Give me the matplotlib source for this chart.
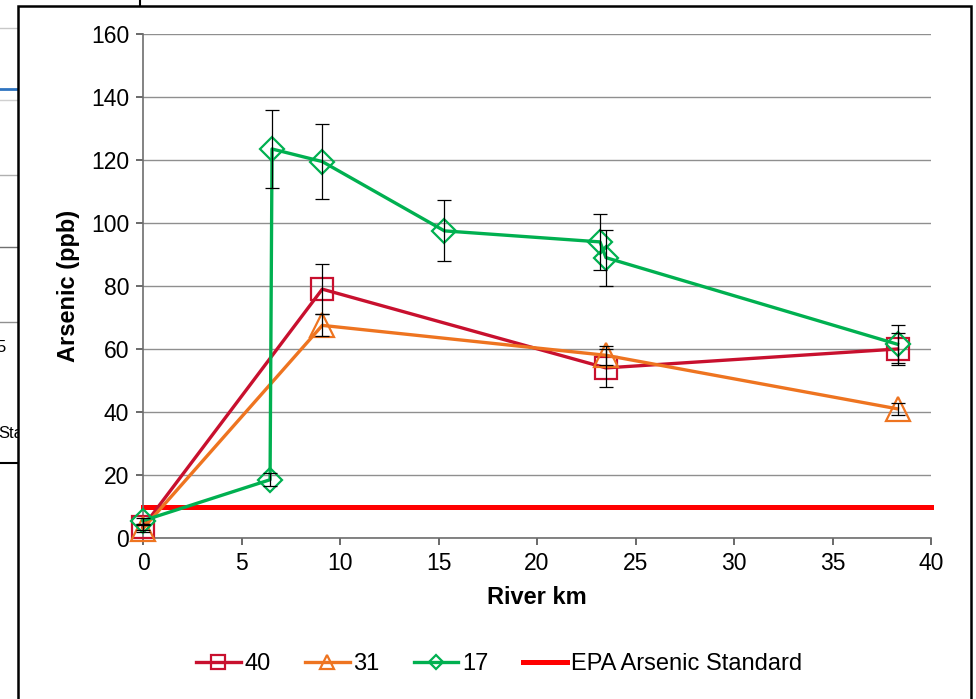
import matplotlib
matplotlib.use("Agg")
import matplotlib.pyplot as plt
from matplotlib.patches import Rectangle
from matplotlib.lines import Line2D

plt.rcParams["font.family"] = ["Liberation Sans", "DejaVu Sans"]

# site 40
km_40 = [0, 9.1, 23.5, 38.3]
as_40 = [3.5, 79, 54, 60]
err_40 = [1, 8, 6, 5]

# site 31
km_31 = [0, 9.1, 23.5, 38.3]
as_31 = [3, 67.5, 58, 41]
err_31 = [1, 3.5, 3, 2]

# site 17
km_17 = [0, 6.45, 6.55, 9.1, 15.3, 23.2, 23.5, 38.3]
as_17 = [5.5, 18.5, 123.5, 119.5, 97.5, 94, 89, 61.5]
err_17 = [1, 2, 12.5, 12, 9.7, 9, 8.9, 6]

epa_km = [0, 40]
epa_level = [10, 10]

W, H = 976, 699
fig = plt.figure(figsize=(W / 100, H / 100), dpi=100)


def fx(px):
    return px / W


def fy(py):
    return 1 - py / H


# bits of the chart behind this one (screenshot leftovers)
for py, col, lw in [(28, "#c8c8c8", 1), (89, "#2f74c0", 2), (100, "#d0d0d0", 1),
                    (175, "#b0b0b0", 1), (247, "#707070", 1), (322, "#909090", 1),
                    (463, "black", 1.5)]:
    fig.add_artist(Line2D([0, fx(18)], [fy(py), fy(py)], color=col, lw=lw, zorder=-3))
fig.add_artist(Line2D([fx(140), fx(140)], [1, fy(6)], color="black", lw=1.5, zorder=-3))
fig.text(fx(-4), fy(347), "5", fontsize=12, va="center", ha="left", zorder=-3)
fig.text(fx(-2), fy(433), "Sta", fontsize=12, va="center", ha="left", zorder=-3)

# frame of this chart
fig.add_artist(Rectangle((fx(18), fy(720)), fx(971 - 18), fy(6) - fy(720),
                         facecolor="white", edgecolor="black", lw=1.8, zorder=-2))

ax = fig.add_axes([fx(143), fy(538), fx(931 - 143), fy(34) - fy(538)])
ax.set_xlim(0, 40)
ax.set_ylim(0, 160)
ax.set_xticks(range(0, 41, 5))
ax.set_yticks(range(0, 161, 20))
ax.grid(axis="y", color="#8f8f8f", lw=1)
ax.set_axisbelow(True)
for s in ["top", "right"]:
    ax.spines[s].set_visible(False)
for s in ["left", "bottom"]:
    ax.spines[s].set_color("#6e6e6e")
    ax.spines[s].set_linewidth(1.2)
ax.tick_params(direction="out", length=5, width=1.2, color="#505050",
               labelsize=16.5, pad=5)

c40 = "#c8102e"
c31 = "#ee7420"
c17 = "#00b050"

ax.plot(km_40, as_40, color=c40, lw=2.4, marker="s", ms=16, mfc="none",
        mew=1.6, clip_on=False, zorder=3, label="40")
ax.plot(km_31, as_31, color=c31, lw=2.4, marker="^", ms=17, mfc="none",
        mew=1.6, clip_on=False, zorder=3, label="31")
ax.plot(km_17, as_17, color=c17, lw=2.4, marker="D", ms=12, mfc="none",
        mew=1.6, clip_on=False, zorder=4, label="17")
ax.plot(epa_km, epa_level, color="#ff0000", lw=3.6, zorder=2, clip_on=False,
        label="EPA Arsenic Standard")

for km, val, err in [(km_40, as_40, err_40), (km_31, as_31, err_31), (km_17, as_17, err_17)]:
    ax.errorbar(km, val, yerr=err, fmt="none", ecolor="black", elinewidth=0.9,
                capsize=5, capthick=0.9, zorder=5, clip_on=False)

ax.set_ylabel("Arsenic (ppb)", fontsize=17, fontweight="bold", labelpad=8)
ax.set_xlabel("River km", fontsize=17, fontweight="bold", labelpad=8)

ax.legend(loc="center", bbox_to_anchor=(fx(499), fy(664)),
          bbox_transform=fig.transFigure, ncol=4, frameon=False,
          fontsize=17, markerscale=0.6, handlelength=1.9, handletextpad=0.15,
          columnspacing=1.45)

fig.savefig("out.png", dpi=100)
